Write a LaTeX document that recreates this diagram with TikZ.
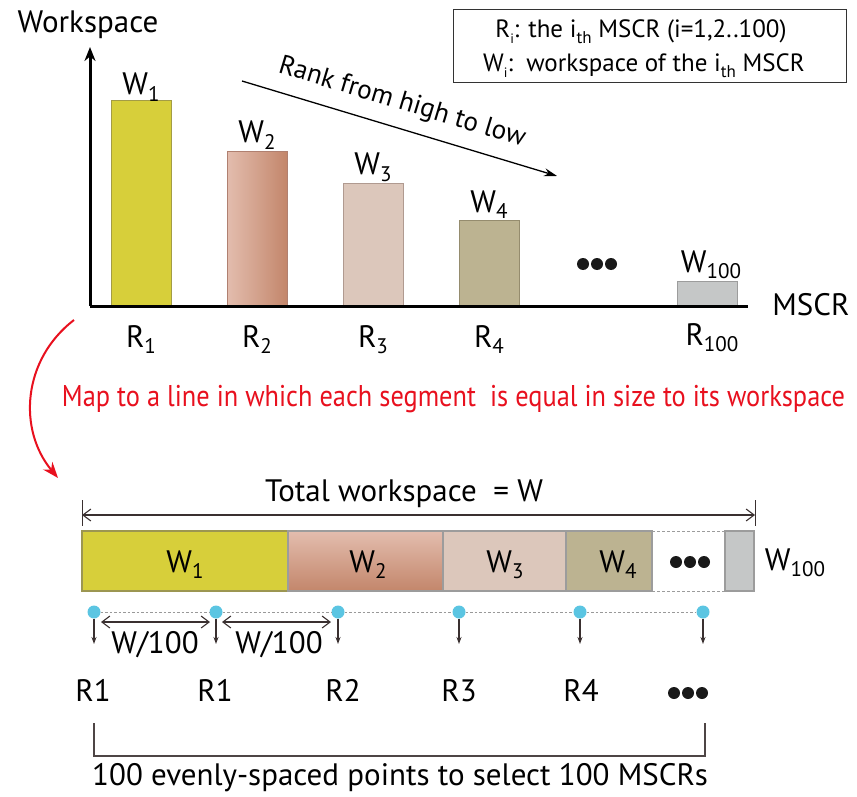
\documentclass[tikz,border=0pt]{standalone}
\usepackage{fontspec}
\setmainfont{PT Sans}
\usetikzlibrary{arrows.meta}
\definecolor{yel}{HTML}{D7CF3A}
\definecolor{yelb}{HTML}{A39C45}
\definecolor{pinkl}{HTML}{E3BDAE}
\definecolor{pinkd}{HTML}{C3866B}
\definecolor{pinkb}{HTML}{B08070}
\definecolor{beige}{HTML}{DCC7BB}
\definecolor{beigeb}{HTML}{B09A90}
\definecolor{olive}{HTML}{BCB391}
\definecolor{oliveb}{HTML}{958C6E}
\definecolor{grey1}{HTML}{C5C7C7}
\definecolor{grey1b}{HTML}{9C9C9C}
\definecolor{redc}{HTML}{E8101E}
\definecolor{bluedot}{HTML}{5BC5E2}
\definecolor{darkl}{HTML}{3A3030}
\newcommand\lsub[1]{\raisebox{-0.22em}{\scalebox{0.68}{#1}}}
\begin{document}
\begin{tikzpicture}[x=1pt,y=-1pt,
  lbl/.style={font=\fontsize{31}{34}\selectfont, inner sep=0, anchor=base},
  sml/.style={font=\fontsize{25}{28}\selectfont, inner sep=0, anchor=base},
  bar/.style={inner sep=0, outer sep=0, anchor=south west, line width=1pt, minimum width=60},
  seg/.style={inner sep=0, outer sep=0, anchor=north west, line width=1.2pt, minimum height=60, draw=grey1b},
  blob/.style={circle, fill=black!90, inner sep=0, minimum size=12},
  bdot/.style={circle, fill=bluedot, inner sep=0, minimum size=13},
  downarr/.style={draw=darkl, line width=1.3pt, -{Stealth[length=7pt,width=5pt]}},
  dimarr/.style={draw=darkl, line width=1.1pt, {Straight Barb[length=8pt,width=12pt]}-{Straight Barb[length=8pt,width=12pt]}}]
\useasboundingbox (0,0) rectangle (857,797);

% ---------- upper chart ----------
\node[lbl] (ylab) at (88,33) {Workspace};
\coordinate (org) at (90,306);
\coordinate (ytop) at (90,47);
\coordinate (xend) at (748,306);
\node[lbl] (xlab) at (811,315) {MSCR};

\node[bar, fill=yel, draw=yelb, minimum height=205] (b1) at (111,306) {};
\node[bar, left color=pinkl, right color=pinkd, draw=pinkb, minimum height=154] (b2) at (227,306) {};
\node[bar, fill=beige, draw=beigeb, minimum height=122] (b3) at (343,306) {};
\node[bar, fill=olive, draw=oliveb, minimum height=86] (b4) at (459,306) {};
\node[bar, fill=grey1, draw=grey1b, minimum height=25] (b100) at (677,306) {};

\draw[line width=3pt, -{Stealth[length=14pt,width=11pt]}] (org) -- (ytop);
\draw[line width=3pt] (org) -- (xend);

\node[lbl] (w1) at (141,95) {W\lsub{1}};
\node[lbl] (w2) at (257,143) {W\lsub{2}};
\node[lbl] (w3) at (373,175) {W\lsub{3}};
\node[lbl] (w4) at (489,212) {W\lsub{4}};
\node[lbl] (w100) at (711,272) {W\lsub{100}};

\node[blob] (d1) at (583,264) {};
\node[blob] (d2) at (597,264) {};
\node[blob] (d3) at (611,264) {};

\node[lbl] (r1) at (141,347) {R\lsub{1}};
\node[lbl] (r2) at (257,347) {R\lsub{2}};
\node[lbl] (r3) at (373,347) {R\lsub{3}};
\node[lbl] (r4) at (489,347) {R\lsub{4}};
\node[lbl] (r100) at (712,345) {R\lsub{100}};

% rank arrow
\coordinate (rka) at (242,81);
\coordinate (rkb) at (557,176);
\draw[line width=1.3pt, -{Stealth[length=13pt,width=8pt]}] (rka) -- (rkb);
\node[font=\fontsize{27}{30}\selectfont, inner sep=0, rotate=-16.8] (rank) at (402,103) {Rank from high to low};

% legend
\node[draw=black!80, line width=1pt, minimum width=393, minimum height=73, inner sep=0] (legend) at (649.5,46.5) {};
\node[sml] (leg1) at (641,38) {R\lsub{\scalebox{0.8}{i}}: the i\lsub{th} MSCR (i=1,2..100)};
\node[sml] (leg2) at (644,72) {W\lsub{\scalebox{0.8}{i}}:\ \ workspace of the i\lsub{th} MSCR};

% ---------- mapping ----------
\coordinate (ra) at (74,320);
\coordinate (rb) at (58,478);
\draw[redc, line width=2pt, -{Stealth[length=16pt,width=12pt]}] (ra) .. controls (22,360) and (18,430) .. (rb);
\node[font=\fontsize{30}{32}\selectfont, text=redc, inner sep=0, anchor=base] (maptxt) at (453.5,406) {\resizebox{783pt}{\height}{Map to a line in which each segment\ \ is equal in size to its workspace}};

% ---------- lower bar ----------
\node[lbl] (total) at (404,501) {Total workspace\ \ = W};
\coordinate (tl) at (82,515);
\coordinate (tr) at (755,515);
\draw[dimarr] (tl) -- (tr);
\draw[darkl, line width=1pt] (82,500) -- (82,526);
\draw[darkl, line width=1pt] (755,500) -- (755,526);

\node[seg, fill=yel, draw=yelb!80!gray, minimum width=206] (s1) at (82,531) {};
\node[seg, top color=pinkl, bottom color=pinkd, minimum width=155] (s2) at (288,531) {};
\node[seg, fill=beige, minimum width=123] (s3) at (443,531) {};
\node[seg, fill=olive, minimum width=86] (s4) at (566,531) {};
\node[seg, fill=grey1, minimum width=29] (s100) at (725,531) {};
\draw[grey1b, line width=1pt, dash pattern=on 2.5pt off 2.5pt] (s4.north east) -- (s100.north west);
\draw[grey1b, line width=1pt, dash pattern=on 2.5pt off 2.5pt] (s4.south east) -- (s100.south west);

\node[lbl] (sw1) at (185,572) {W\lsub{1}};
\node[lbl] (sw2) at (368,572) {W\lsub{2}};
\node[lbl] (sw3) at (505,572) {W\lsub{3}};
\node[lbl] (sw4) at (618,572) {W\lsub{4}};
\node[lbl] (sw100) at (795,570) {W\lsub{100}};
\node[blob] (e1) at (676,562) {};
\node[blob] (e2) at (690,562) {};
\node[blob] (e3) at (704,562) {};

% points
\node[bdot] (p1) at (94,612) {};
\node[bdot] (p2) at (216,612) {};
\node[bdot] (p3) at (338,612) {};
\node[bdot] (p4) at (459,612) {};
\node[bdot] (p5) at (580,612) {};
\node[bdot] (p6) at (703,612) {};
\draw[gray!80, line width=0.9pt, dash pattern=on 2.5pt off 2pt] (p1) -- (p2) -- (p3) -- (p4) -- (p5) -- (p6);
\foreach \p in {p1,p2,p3,p4,p5,p6}{
  \coordinate (\p e) at ([yshift=-32pt]\p.center);
  \draw[downarr] (\p.south) -- (\p e);
}
\coordinate (da1) at (101,622);
\coordinate (da2) at (210,622);
\coordinate (da3) at (222,622);
\coordinate (da4) at (331,622);
\draw[dimarr] (da1) -- (da2);
\draw[dimarr] (da3) -- (da4);
\node[lbl] (wd1) at (155,653) {W/100};
\node[lbl] (wd2) at (279,653) {W/100};

\node[lbl] (q1) at (93,701) {R1};
\node[lbl] (q2) at (215,701) {R1};
\node[lbl] (q3) at (343,701) {R2};
\node[lbl] (q4) at (459,701) {R3};
\node[lbl] (q5) at (581,701) {R4};
\node[blob] (f1) at (674,693) {};
\node[blob] (f2) at (688,693) {};
\node[blob] (f3) at (702,693) {};

\coordinate (bk1) at (94,723);
\coordinate (bk2) at (705,723);
\draw[darkl!90, line width=1.3pt] (bk1) |- (400,756) -| (bk2);
\node[lbl] (bottom) at (400,785) {100 evenly-spaced points to select 100 MSCRs};
\end{tikzpicture}
\end{document}
